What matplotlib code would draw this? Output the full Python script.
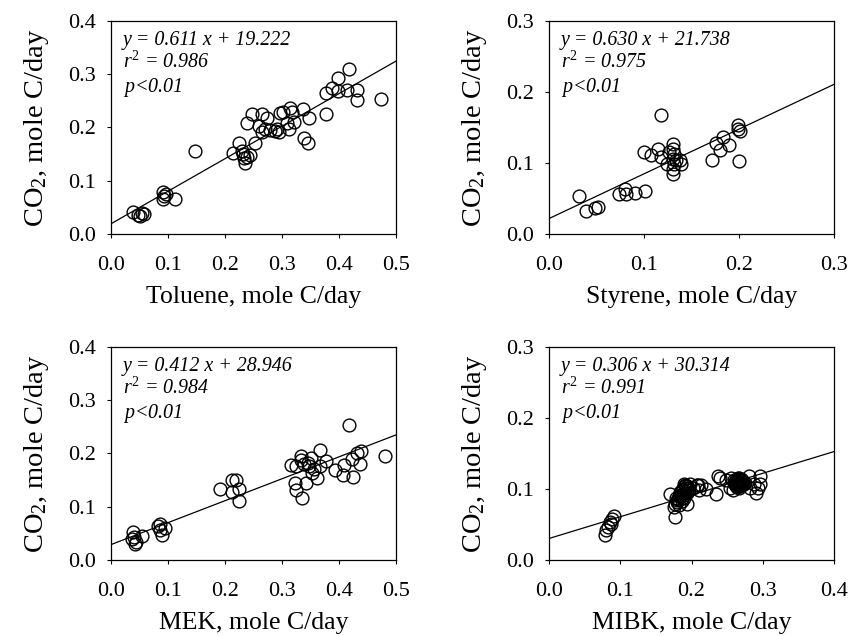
import matplotlib.pyplot as plt
import numpy as np

plt.rcParams["font.family"] = "Liberation Serif"
plt.rcParams["mathtext.fontset"] = "custom"
plt.rcParams["mathtext.rm"] = "Liberation Serif"
plt.rcParams["mathtext.it"] = "Liberation Serif:italic"

# Toluene
tol_x = [0.039, 0.048, 0.054, 0.051, 0.057, 0.091, 0.093, 0.091, 0.097, 0.113,
         0.148, 0.214, 0.225, 0.230, 0.232, 0.234, 0.235, 0.238, 0.243, 0.253,
         0.239, 0.247, 0.265, 0.273, 0.259, 0.265, 0.270, 0.279, 0.288, 0.294,
         0.291, 0.297, 0.301, 0.314, 0.317, 0.308, 0.313, 0.321, 0.336, 0.338,
         0.346, 0.348, 0.377, 0.378, 0.387, 0.399, 0.399, 0.414, 0.417, 0.431,
         0.432, 0.473]
tol_y = [0.041, 0.036, 0.039, 0.034, 0.037, 0.078, 0.071, 0.065, 0.076, 0.065,
         0.156, 0.153, 0.170, 0.156, 0.150, 0.142, 0.133, 0.145, 0.148, 0.170,
         0.209, 0.226, 0.226, 0.217, 0.203, 0.192, 0.198, 0.195, 0.194, 0.192,
         0.198, 0.228, 0.229, 0.236, 0.229, 0.208, 0.198, 0.211, 0.234, 0.181,
         0.171, 0.217, 0.226, 0.264, 0.275, 0.292, 0.269, 0.270, 0.309, 0.271,
         0.251, 0.253]

# Styrene
sty_x = [0.032, 0.039, 0.048, 0.052, 0.074, 0.080, 0.081, 0.090, 0.101, 0.100,
         0.107, 0.115, 0.118, 0.118, 0.124, 0.126, 0.131, 0.131, 0.132, 0.131,
         0.132, 0.131, 0.131, 0.134, 0.138, 0.139, 0.172, 0.176, 0.180, 0.183,
         0.189, 0.199, 0.199, 0.201, 0.200]
sty_y = [0.053, 0.032, 0.036, 0.038, 0.057, 0.064, 0.057, 0.058, 0.061, 0.115,
         0.111, 0.120, 0.168, 0.109, 0.099, 0.115, 0.127, 0.120, 0.113, 0.106,
         0.099, 0.092, 0.085, 0.104, 0.104, 0.099, 0.104, 0.128, 0.118, 0.136,
         0.126, 0.153, 0.148, 0.145, 0.103]

# MEK
mek_x = [0.039, 0.036, 0.041, 0.044, 0.042, 0.054, 0.083, 0.086, 0.089, 0.094,
         0.086, 0.191, 0.212, 0.220, 0.213, 0.225, 0.225, 0.315, 0.325, 0.333,
         0.338, 0.323, 0.325, 0.335, 0.342, 0.350, 0.348, 0.352, 0.361, 0.366,
         0.367, 0.377, 0.393, 0.408, 0.407, 0.417, 0.422, 0.425, 0.431, 0.436,
         0.438, 0.481, 0.333, 0.345, 0.356]
mek_y = [0.052, 0.040, 0.044, 0.034, 0.030, 0.046, 0.063, 0.057, 0.047, 0.060,
         0.067, 0.134, 0.150, 0.151, 0.128, 0.133, 0.111, 0.178, 0.176, 0.195,
         0.181, 0.144, 0.131, 0.116, 0.144, 0.192, 0.176, 0.164, 0.154, 0.206,
         0.176, 0.186, 0.169, 0.179, 0.159, 0.253, 0.189, 0.156, 0.200, 0.181,
         0.204, 0.196, 0.188, 0.183, 0.170]

# MIBK
mibk_x = [0.079, 0.080, 0.083, 0.086, 0.088, 0.091, 0.087,
          0.170, 0.177, 0.177, 0.175, 0.181, 0.186, 0.189, 0.190, 0.193, 0.195,
          0.198, 0.202, 0.207, 0.211, 0.214, 0.221, 0.235, 0.240, 0.249, 0.256,
          0.261, 0.263, 0.266, 0.270, 0.268, 0.275, 0.280, 0.282, 0.287, 0.291,
          0.296, 0.296, 0.294, 0.254, 0.258, 0.191, 0.209, 0.237, 0.264, 0.267,
          0.262, 0.272, 0.186, 0.193,
          0.263, 0.265, 0.268, 0.270, 0.266, 0.262, 0.271, 0.264, 0.269, 0.267,
          0.188, 0.191, 0.194, 0.189, 0.192, 0.180, 0.183, 0.196, 0.179, 0.184,
          0.260, 0.262, 0.265, 0.268, 0.271, 0.273, 0.264, 0.267, 0.259, 0.270,
          0.185, 0.187, 0.190, 0.193, 0.182, 0.178]
mibk_y = [0.035, 0.042, 0.047, 0.053, 0.058, 0.062, 0.050,
          0.093, 0.079, 0.061, 0.075, 0.086, 0.098, 0.107, 0.091, 0.079, 0.102,
          0.107, 0.102, 0.105, 0.098, 0.105, 0.100, 0.093, 0.116, 0.112, 0.116,
          0.107, 0.112, 0.102, 0.114, 0.107, 0.109, 0.119, 0.102, 0.107, 0.095,
          0.119, 0.107, 0.102, 0.102, 0.098, 0.106, 0.106, 0.118, 0.110, 0.105,
          0.112, 0.108, 0.088, 0.095,
          0.108, 0.110, 0.112, 0.109, 0.106, 0.111, 0.105, 0.114, 0.107, 0.109,
          0.100, 0.104, 0.098, 0.094, 0.101, 0.082, 0.090, 0.099, 0.085, 0.096,
          0.113, 0.104, 0.115, 0.104, 0.112, 0.107, 0.103, 0.116, 0.109, 0.106,
          0.091, 0.083, 0.087, 0.104, 0.078, 0.088]

slopes = [0.611, 0.630, 0.412, 0.306]
intercepts = [19.222, 21.738, 28.946, 30.314]  # mmole C/day
r2_values = ["0.986", "0.975", "0.984", "0.991"]
xlabels = ["Toluene, mole C/day", "Styrene, mole C/day",
           "MEK, mole C/day", "MIBK, mole C/day"]
xmaxes = [0.5, 0.3, 0.5, 0.4]
ymaxes = [0.4, 0.3, 0.4, 0.3]
all_x = [tol_x, sty_x, mek_x, mibk_x]
all_y = [tol_y, sty_y, mek_y, mibk_y]

fig = plt.figure(figsize=(8.5, 6.36), dpi=100)
positions = [[0.1306, 0.6321, 0.3353, 0.3349],
             [0.6459, 0.6321, 0.3353, 0.3349],
             [0.1306, 0.1195, 0.3353, 0.3349],
             [0.6459, 0.1195, 0.3353, 0.3349]]

for i in range(4):
    ax = fig.add_axes(positions[i])
    ax.plot(all_x[i], all_y[i], "o", ms=9.2, mfc="none", mec="black", mew=1.0)
    xl = np.array([0, xmaxes[i]])
    ax.plot(xl, slopes[i] * xl + intercepts[i] / 1000, color="black", lw=0.9)
    ax.set_xlim(0, xmaxes[i])
    ax.set_ylim(0, ymaxes[i])
    ax.set_xticks(np.arange(0, xmaxes[i] + 0.001, 0.1))
    ax.set_yticks(np.arange(0, ymaxes[i] + 0.001, 0.1))
    ax.xaxis.set_major_formatter(plt.FormatStrFormatter("%.1f"))
    ax.yaxis.set_major_formatter(plt.FormatStrFormatter("%.1f"))
    ax.tick_params(direction="out", length=3, width=0.8, labelsize=16,
                   top=False, right=False)
    ax.tick_params(axis="x", pad=13)
    ax.tick_params(axis="y", pad=8)
    for s in ax.spines.values():
        s.set_linewidth(0.9)
    ax.set_xlabel(xlabels[i], fontsize=18.5, labelpad=8)
    ax.set_ylabel("CO$_2$, mole C/day", fontsize=20.5, labelpad=12)
    txt = "y = %.3f x + %.3f\n$r^2$ = %s\n$p$<0.01" % (slopes[i], intercepts[i], r2_values[i])
    ax.text(0.042, 0.955, txt, transform=ax.transAxes, fontsize=14.4,
            style="italic", va="top", ha="left", linespacing=1.15)

fig.savefig("out.png", dpi=100)
